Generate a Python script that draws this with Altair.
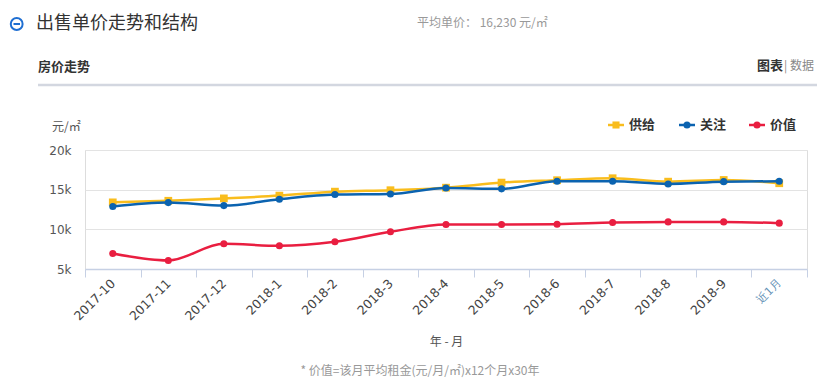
import altair as alt
import pandas as pd

months = ["2017-10", "2017-11", "2017-12", "2018-1", "2018-2", "2018-3", "2018-4",
          "2018-5", "2018-6", "2018-7", "2018-8", "2018-9", "近1月"]
supply = [13400, 13600, 13900, 14250, 14750, 14930, 15250, 15890, 16190, 16440, 16010, 16220, 15810]
attention = [12870, 13370, 12990, 13800, 14380, 14460, 15220, 15100, 16060, 16060, 15720, 16010, 16060]
value = [6960, 6080, 8180, 7930, 8430, 9690, 10610, 10610, 10650, 10860, 10940, 10940, 10780]

series_names = ["供给", "关注", "价值"]
series_colors = ["#f9bd1d", "#0b63b0", "#e91e40"]
series_shapes = ["square", "circle", "circle"]
y_ticks = [5000, 10000, 15000, 20000]

FONT = "Noto Sans CJK SC"
W, H = 722, 119

rows = []
for name, vals in zip(series_names, [supply, attention, value]):
    for m, v in zip(months, vals):
        rows.append({"month": m, "price": v, "series": name})
df = pd.DataFrame(rows)

x_enc = alt.X("month:N", sort=months,
              scale=alt.Scale(type="band", paddingInner=0, paddingOuter=0),
              axis=alt.Axis(title="年 - 月", titleFont=FONT, titleFontSize=12,
                            titleColor="#555", titleFontWeight="normal",
                            titleY=72, titleBaseline="middle",
                            labelAngle=-45, labelAlign="right", labelBaseline="middle",
                            labelFont="DejaVu Sans",
                            labelFontSize=alt.expr("datum.value == '近1月' ? 11 : 12.5"),
                            labelColor=alt.expr("datum.value == '近1月' ? '#5f8fb5' : '#444'"),
                            labelPadding=4, tickBand="extent", tickSize=8,
                            tickColor="#c6d0e4", domainColor="#c6d0e4", domainWidth=1.5,
                            grid=False, labelOverlap=False))
y_enc = alt.Y("price:Q", scale=alt.Scale(domain=[5000, 20000], nice=False, zero=False),
              axis=alt.Axis(title=None, values=y_ticks, format="~s", domain=False,
                            ticks=False, labelPadding=14, labelFont="DejaVu Sans",
                            labelFontSize=12, labelColor="#555", gridColor="#e3e3e3"))

layers = []
for name, color, shape in zip(series_names, series_colors, series_shapes):
    sub = alt.Chart(df).transform_filter(alt.datum.series == name)
    layers.append(sub.mark_line(interpolate="monotone", strokeWidth=2.5, color=color)
                  .encode(x=x_enc, y=y_enc))
    layers.append(sub.mark_point(filled=True, shape=shape, opacity=1, color=color,
                                 size=60 if shape == "square" else 50)
                  .encode(x=x_enc, y=y_enc))

one = pd.DataFrame({"k": [0]})


def text(t, x, y, size=12, color="#333", weight="normal", align="left", font=FONT):
    return alt.Chart(one).mark_text(text=t, align=align, baseline="middle", fontSize=size,
                                    color=color, fontWeight=weight, font=font).encode(
        x=alt.value(x), y=alt.value(y))


# header
icon = alt.Chart(one).mark_point(shape="circle", filled=False, size=140, strokeWidth=2,
                                 color="#1f6fd2", opacity=1).encode(
    x=alt.value(-68.3), y=alt.value(-126))
icon_minus = alt.Chart(one).mark_rule(color="#1f6fd2", strokeWidth=2).encode(
    x=alt.value(-71.5), x2=alt.value(-65), y=alt.value(-126))
title = text("出售单价走势和结构", -49, -126, size=18, color="#333")
avg = text("平均单价：  16,230 元/㎡", 332, -127, size=12, color="#999")
sub_title = text("房价走势", -47, -83, size=13, color="#333", weight="bold")
tab1 = text("图表", 698, -84, size=13, color="#333", weight="bold", align="right")
tab2 = text("| 数据", 729, -84, size=12, color="#888", align="right")
sep = alt.Chart(one).mark_rule(color="#d3d7e0", strokeWidth=2.5).encode(
    x=alt.value(-47), x2=alt.value(732), y=alt.value(-65))
unit = text("元/㎡", -33, -23, size=12, color="#555")

# legend
leg_x = [531, 602, 672]
legend_layers = []
for name, color, shape, cx in zip(series_names, series_colors, series_shapes, leg_x):
    legend_layers.append(alt.Chart(one).mark_rule(color=color, strokeWidth=2.5).encode(
        x=alt.value(cx - 8), x2=alt.value(cx + 8), y=alt.value(-25)))
    legend_layers.append(alt.Chart(one).mark_point(filled=True, shape=shape, color=color,
                                                   opacity=1, size=50).encode(
        x=alt.value(cx), y=alt.value(-25)))
    legend_layers.append(text(name, cx + 13, -25, size=13, color="#333", weight="bold"))

foot = text("* 价值=该月平均租金(元/月/㎡)x12个月x30年", 335, 221, size=12, color="#999",
            align="center")

chart = alt.layer(*layers, icon, icon_minus, title, avg, sub_title, tab1, tab2, sep, unit,
                  *legend_layers, foot).properties(
    width=W, height=H,
    autosize=alt.AutoSizeParams(type="none"),
    padding={"left": 77, "top": 142, "right": 10, "bottom": 109},
).configure_view(stroke=None).configure(font=FONT)

chart.save("out.html", embed_options={"renderer": "svg", "actions": False})
